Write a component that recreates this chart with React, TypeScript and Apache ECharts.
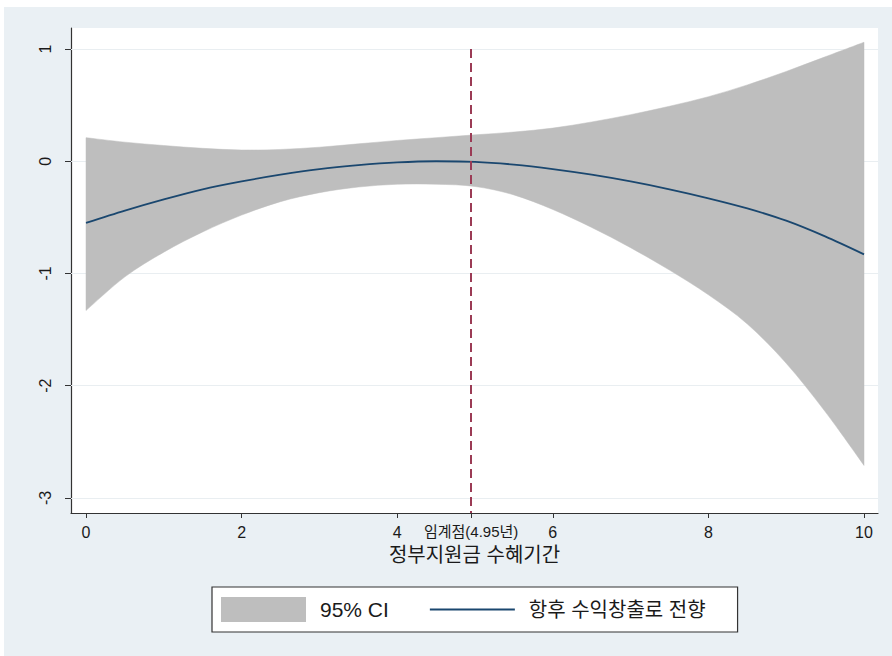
import React, { useEffect, useRef } from "react";
import * as echarts from "echarts";

// ---- data ----
const xValues = [0, 0.5, 1, 1.5, 2, 2.5, 3, 3.5, 4, 4.5, 5, 5.5, 6, 6.5, 7, 7.5, 8, 8.5, 9, 9.5, 10];
const fitValues = [-0.55, -0.44, -0.34, -0.25, -0.18, -0.12, -0.07, -0.035, -0.01, 0.0, -0.005, -0.03, -0.07, -0.12, -0.18, -0.25, -0.33, -0.42, -0.53, -0.67, -0.83];
const upperCI = [0.21, 0.17, 0.14, 0.115, 0.10, 0.105, 0.125, 0.155, 0.185, 0.21, 0.235, 0.26, 0.295, 0.35, 0.415, 0.49, 0.575, 0.68, 0.8, 0.93, 1.06];
const lowerCI = [-1.33, -1.03, -0.81, -0.63, -0.48, -0.36, -0.28, -0.23, -0.205, -0.205, -0.225, -0.3, -0.43, -0.59, -0.77, -0.97, -1.19, -1.45, -1.8, -2.23, -2.71];
const threshold = 4.95;
const thresholdLabel = "임계점(4.95년)";
const xTicks = [0, 2, 4, 6, 8, 10];
const yTicks = [-3, -2, -1, 0, 1];
const xTitle = "정부지원금 수혜기간";
const ciName = "95% CI";
const fitName = "항후 수익창출로 전향";

const X_MIN = -0.193;
const X_MAX = 10.18;
const Y_MIN = -3.134;
const Y_MAX = 1.187;

const FONT = "'Liberation Sans', Arial, 'Noto Sans CJK KR', sans-serif";
const BAND = "#BEBEBE";
const NAVY = "#1A476F";

// smooth band shape: Catmull-Rom curves through the projected edge points
function traceCurve(ctx: any, pts: number[][], moveFirst: boolean) {
  const n = pts.length;
  if (moveFirst) ctx.moveTo(pts[0][0], pts[0][1]);
  else ctx.lineTo(pts[0][0], pts[0][1]);
  for (let i = 0; i < n - 1; i++) {
    const p0 = pts[Math.max(i - 1, 0)];
    const p1 = pts[i];
    const p2 = pts[i + 1];
    const p3 = pts[Math.min(i + 2, n - 1)];
    const c1x = p1[0] + (p2[0] - p0[0]) / 6;
    const c1y = p1[1] + (p2[1] - p0[1]) / 6;
    const c2x = p2[0] - (p3[0] - p1[0]) / 6;
    const c2y = p2[1] - (p3[1] - p1[1]) / 6;
    ctx.bezierCurveTo(c1x, c1y, c2x, c2y, p2[0], p2[1]);
  }
}

let shapeRegistered = false;
function ensureShape() {
  if (shapeRegistered) return;
  const Band = (echarts.graphic as any).extendShape({
    shape: { upper: [], lower: [] },
    buildPath(ctx: any, shape: any) {
      const up = shape.upper as number[][];
      const low = shape.lower as number[][];
      if (!up.length || !low.length) return;
      traceCurve(ctx, up, true);
      traceCurve(ctx, low.slice().reverse(), false);
      ctx.closePath();
    },
  });
  echarts.graphic.registerShape("ciBand", Band);
  shapeRegistered = true;
}

export default function App() {
  const ref = useRef<HTMLDivElement>(null);

  useEffect(() => {
    if (!ref.current) return;
    ensureShape();
    const chart = echarts.init(ref.current, undefined, { renderer: "svg" });

    const fitData = xValues.map((x, i) => [x, fitValues[i]]);
    const xLabelValues = [...xTicks, threshold].sort((a, b) => a - b);

    chart.setOption({
      animation: false,
      backgroundColor: "#ffffff",
      textStyle: { fontFamily: FONT },
      graphic: [
        {
          type: "rect",
          z: -100,
          silent: true,
          shape: { x: 4, y: 7, width: 888, height: 649 },
          style: { fill: "#EAF0F4" },
        },
      ],
      grid: {
        left: 71,
        right: 14,
        top: 28,
        bottom: 143,
        show: true,
        backgroundColor: "#ffffff",
        borderWidth: 0,
        containLabel: false,
      },
      legend: {
        left: 212,
        top: 587,
        orient: "horizontal",
        padding: [10, 32, 10, 9],
        itemGap: 41,
        itemWidth: 85,
        itemHeight: 25,
        backgroundColor: "#ffffff",
        borderColor: "#333333",
        borderWidth: 1.2,
        borderRadius: 0,
        selectedMode: false,
        data: [
          { name: ciName, icon: "rect", itemStyle: { color: BAND } },
          { name: fitName, icon: "path://M0,0 L85,0 L85,1.8 L0,1.8 Z", itemStyle: { color: NAVY } },
        ],
        formatter: (name: string) => (name === ciName ? `{a|${name}}` : `{b|${name}}`),
        textStyle: {
          color: "#1a1a1a",
          fontFamily: FONT,
          rich: {
            a: { fontSize: 21, fontFamily: FONT, color: "#1a1a1a", padding: [0, 0, 0, 9] },
            b: { fontSize: 20, fontFamily: FONT, color: "#1a1a1a", padding: [0, 0, 0, 9] },
          },
        },
      },
      xAxis: {
        type: "value",
        min: X_MIN,
        max: X_MAX,
        name: xTitle,
        nameLocation: "middle",
        nameGap: 32,
        nameTextStyle: { fontSize: 20, color: "#1a1a1a", fontFamily: FONT },
        axisLine: { show: true, onZero: false, lineStyle: { color: "#333333", width: 1.2 } },
        axisTick: {
          show: true,
          customValues: xLabelValues,
          length: 5,
          lineStyle: { color: "#333333", width: 1 },
        },
        axisLabel: {
          customValues: xLabelValues,
          fontSize: 16,
          color: "#1a1a1a",
          margin: 11,
          fontFamily: FONT,
          formatter: (v: number) => (Math.abs(v - threshold) < 1e-6 ? `{t|${thresholdLabel}}` : String(v)),
          rich: {
            t: { fontSize: 15, color: "#1a1a1a", fontFamily: FONT },
          },
        },
        splitLine: { show: false },
      },
      yAxis: {
        type: "value",
        min: Y_MIN,
        max: Y_MAX,
        axisLine: { show: true, onZero: false, lineStyle: { color: "#333333", width: 1.2 } },
        axisTick: {
          show: true,
          customValues: yTicks,
          length: 6,
          lineStyle: { color: "#333333", width: 1 },
        },
        axisLabel: {
          customValues: yTicks,
          rotate: 90,
          fontSize: 16,
          color: "#1a1a1a",
          margin: 18,
          fontFamily: FONT,
        },
        splitLine: { show: false },
      },
      series: [
        {
          name: ciName,
          type: "custom",
          silent: true,
          z: 2,
          itemStyle: { color: BAND },
          data: [[xValues[0], lowerCI[0]]],
          encode: { x: 0, y: 1 },
          renderItem: (params: any, api: any) => {
            if (params.dataIndex !== 0) return null;
            const upper = xValues.map((x, i) => api.coord([x, upperCI[i]]));
            const lower = xValues.map((x, i) => api.coord([x, lowerCI[i]]));
            return {
              type: "ciBand",
              shape: { upper, lower },
              style: { fill: BAND, stroke: BAND, lineWidth: 0.5 },
            };
          },
        },
        {
          name: fitName,
          type: "line",
          data: fitData,
          symbol: "none",
          smooth: 0.3,
          silent: true,
          itemStyle: { color: NAVY },
          lineStyle: { color: NAVY, width: 1.8 },
          z: 3,
          markLine: {
            silent: true,
            z: 1,
            symbol: ["none", "none"],
            label: { show: false },
            lineStyle: { color: "#E9EEF1", width: 1, type: "solid" },
            data: yTicks.map((v) => ({ yAxis: v })),
          },
        },
        {
          name: "threshold",
          type: "line",
          data: [],
          symbol: "none",
          silent: true,
          z: 6,
          markLine: {
            silent: true,
            z: 6,
            symbol: ["none", "none"],
            label: { show: false },
            lineStyle: { color: "#9B3B55", width: 2, type: [9, 5] },
            data: [[{ coord: [threshold, yTicks[yTicks.length - 1]] }, { coord: [threshold, Y_MIN] }]],
          },
        },
      ],
    });

    return () => chart.dispose();
  }, []);

  return (
    <div
      ref={ref}
      style={{ position: "absolute", left: 0, top: 0, width: 892, height: 656 }}
    />
  );
}
